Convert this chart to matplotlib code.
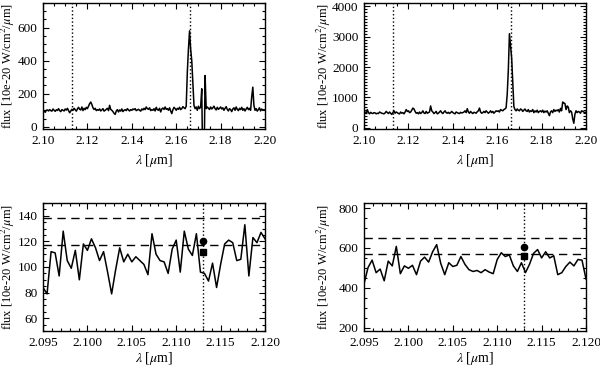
"""
Recreate the four-panel spectrum figure (line region + zoom around 2.113 um).
"""

import matplotlib

matplotlib.use("Agg")

import matplotlib.pyplot as plt
import numpy as np
from matplotlib.ticker import MultipleLocator

plt.rcParams["font.family"] = ["Liberation Serif", "DejaVu Serif"]
plt.rcParams["mathtext.fontset"] = "stix"

LINE_A = 2.113
LINE_B = 2.166

# top-left spectrum, 2.100 .. 2.200 in 0.0005 steps
flux_a_full = [
    105, 95, 88, 100, 102, 96, 104, 98, 95, 108,
    100, 94, 103, 99, 110, 98, 92, 104, 100, 96,
    108, 101, 112, 98, 85, 95, 106, 100, 112, 104,
    95, 108, 118, 106, 102, 120, 98, 112, 104, 118,
    110, 125, 140, 150, 135, 115, 105, 112, 98, 104,
    100, 108, 96, 102, 110, 95, 100, 106, 112, 98,
    130, 105, 100, 92, 82, 75, 96, 104, 90, 102,
    95, 108, 92, 100, 104, 98, 110, 102, 96, 104,
    100, 108, 104, 110, 98, 102, 106, 100, 95, 108,
    102, 112, 104, 120, 110, 106, 115, 98, 104, 100,
    110, 96, 118, 104, 100, 112, 90, 108, 114, 105,
    120, 106, 110, 100, 115, 96, 80, 104, 118, 110,
    100, 112, 106, 118, 104, 110, 122, 115, 110, 125,
    330, 470, 580, 470, 400, 260, 130, 110, 120, 100,
    125, 110, 120, 230, -300, -300, 310, 110, 120, 112,
    105, 120, 108, 115, 125, 110, 102, 118, 106, 112,
    120, 108, 115, 100, 112, 122, 105, 96, 110, 104,
    92, 108, 115, 100, 120, 106, 98, 112, 104, 118,
    100, 110, 96, 108, 118, 104, 112, 100, 180, 240,
    130, 100, 110, 95, 104, 115, 96, 108, 100, 104,
    100,
]

# top-right spectrum, same grid
flux_b_full = [
    480, 520, 470, 600, 500, 460, 510, 480, 470, 500,
    490, 460, 480, 470, 520, 500, 480, 470, 460, 490,
    540, 500, 470, 520, 480, 440, 500, 560, 480, 520,
    500, 470, 460, 520, 480, 500, 460, 520, 600, 540,
    560, 500, 520, 580, 650, 620, 540, 480, 500, 460,
    520, 470, 500, 560, 490, 470, 540, 480, 500, 520,
    720, 560, 520, 470, 500, 540, 460, 480, 520, 560,
    500, 470, 520, 560, 500, 480, 510, 470, 500, 540,
    500, 480, 460, 520, 500, 480, 470, 510, 490, 500,
    520, 560, 500, 630, 520, 480, 540, 500, 470, 510,
    500, 480, 530, 560, 650, 520, 480, 500, 540, 500,
    560, 520, 480, 510, 560, 500, 540, 480, 520, 560,
    540, 560, 520, 600, 580, 560, 600, 620, 660, 1100,
    1900, 3100, 2700, 2300, 1500, 700, 600, 560, 620, 580,
    560, 620, 600, 540, 580, 620, 560, 540, 600, 520,
    560, 540, 600, 500, 560, 520, 580, 500, 540, 560,
    520, 580, 500, 550, 520, 560, 480, 400, 520, 560,
    500, 600, 540, 580, 560, 600, 520, 640, 560, 850,
    820, 800, 600, 720, 680, 500, 560, 520, 300, 150,
    450, 560, 500, 540, 520, 480, 560, 540, 520, 500,
    520,
]

# bottom-left zoom, 2.095 .. 2.120
flux_a_zoom = [
    84, 79, 112, 111, 93, 128, 105, 99, 113, 90,
    118, 113, 122, 115, 105, 112, 96, 79, 98, 115,
    104, 110, 104, 108, 105, 102, 94, 126, 110, 105,
    104, 95, 114, 121, 96, 128, 114, 109, 126, 96,
    95, 89, 103, 84, 102, 118, 121, 119, 105, 106,
    133, 93, 123, 119, 127, 122,
]

# bottom-right zoom, 2.095 .. 2.120
flux_b_zoom = [
    420, 502, 539, 476, 494, 435, 534, 510, 608, 471,
    510, 498, 513, 466, 534, 554, 529, 581, 617, 523,
    466, 526, 507, 513, 557, 518, 491, 482, 487, 476,
    491, 479, 471, 542, 576, 557, 565, 510, 482, 526,
    476, 518, 573, 592, 550, 581, 550, 561, 466, 476,
    507, 529, 510, 542, 539, 444,
]

# dashed reference levels and the two measured points at LINE_A
levels_a = [138, 117.5]
levels_b = [648, 568]
points_a = {"circle": 120.5, "square": 111.5}
points_b = {"circle": 603, "square": 560}

YLABEL = r"flux [10e-20 W/cm$^{2}$/$\mu$m]"
XLABEL = r"$\lambda$ [$\mu$m]"


def style_axes(ax, xmajor, xminor, ymajor, yminor, ylabel_x, xlabel_pad):
    ax.xaxis.set_major_locator(MultipleLocator(xmajor))
    ax.xaxis.set_minor_locator(MultipleLocator(xminor))
    ax.yaxis.set_major_locator(MultipleLocator(ymajor))
    ax.yaxis.set_minor_locator(MultipleLocator(yminor))
    ax.tick_params(which="both", direction="in", top=True, right=True,
                   labelsize=9.5, width=0.8, pad=4)
    ax.tick_params(which="major", length=4.5)
    ax.tick_params(which="minor", length=2.5)
    for spine in ax.spines.values():
        spine.set_linewidth(1.0)
    ax.set_xlabel(XLABEL, fontsize=10, labelpad=xlabel_pad)
    ax.set_ylabel(YLABEL, fontsize=9)
    ax.yaxis.set_label_coords(ylabel_x, 0.5)


def plot_full(ax, flux, ylim, ymajor, yminor, ylabel_x):
    wave = np.linspace(2.100, 2.200, len(flux))
    ax.plot(wave, flux, color="black", linewidth=1.1)
    ax.axvline(LINE_A, color="black", linestyle=":", linewidth=1.0)
    ax.axvline(LINE_B, color="black", linestyle=":", linewidth=1.0)
    ax.set_xlim(2.100, 2.200)
    ax.set_ylim(*ylim)
    ax.xaxis.set_major_formatter(plt.FuncFormatter(lambda v, p: f"{v:.2f}"))
    style_axes(ax, 0.02, 0.005, ymajor, yminor, ylabel_x, 4)


def plot_zoom(ax, flux, levels, points, ylim, ymajor, yminor, ylabel_x):
    wave = np.linspace(2.095, 2.120, len(flux))
    ax.plot(wave, flux, color="black", linewidth=1.1)
    for level in levels:
        ax.axhline(level, color="black", linestyle=(0, (6, 4)), linewidth=1.0)
    ax.axvline(LINE_A, color="black", linestyle=":", linewidth=1.0)
    ax.plot([LINE_A], [points["circle"]], "o", color="black", markersize=4.5)
    ax.plot([LINE_A], [points["square"]], "s", color="black", markersize=4.2)
    ax.set_xlim(2.095, 2.120)
    ax.set_ylim(*ylim)
    ax.xaxis.set_major_formatter(plt.FuncFormatter(lambda v, p: f"{v:.3f}"))
    style_axes(ax, 0.005, 0.001, ymajor, yminor, ylabel_x, 1)


def main():
    fig = plt.figure(figsize=(6.0, 3.7), dpi=100)

    ax_tl = fig.add_axes([0.0717, 0.6505, 0.370, 0.342])
    ax_tr = fig.add_axes([0.6067, 0.6505, 0.370, 0.342])
    ax_bl = fig.add_axes([0.0717, 0.1054, 0.370, 0.346])
    ax_br = fig.add_axes([0.6067, 0.1054, 0.370, 0.346])

    plot_full(ax_tl, flux_a_full, (-15, 750), 200, 50, -0.115)
    plot_full(ax_tr, flux_b_full, (-50, 4120), 1000, 100, -0.14)
    plot_zoom(ax_bl, flux_a_zoom, levels_a, points_a, (50, 150), 20, 5, -0.115)
    plot_zoom(ax_br, flux_b_zoom, levels_b, points_b, (183, 826), 200, 50, -0.14)

    fig.savefig("out.png", dpi=100)
    plt.close(fig)


if __name__ == "__main__":
    main()
